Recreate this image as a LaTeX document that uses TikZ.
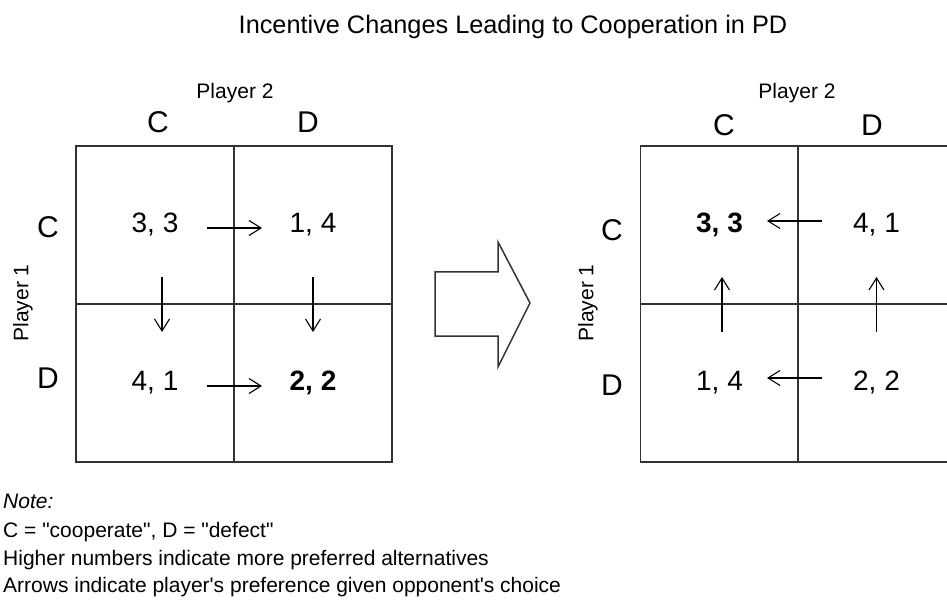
\documentclass[tikz,border=0pt]{standalone}
\usepackage{fontspec}
\setmainfont{Liberation Sans}[Ligatures=TeXOff]
\usetikzlibrary{arrows.meta}

\begin{document}
\begin{tikzpicture}[x=1pt,y=-1pt,
    cell/.style={draw=black!80,line width=1.4pt,minimum size=158pt,inner sep=0pt,
      font=\fontsize{28}{32}\selectfont},
    strat/.style={font=\fontsize{30}{34}\selectfont,inner sep=0pt},
    player/.style={font=\fontsize{21}{24}\selectfont,inner sep=0pt},
    note/.style={font=\fontsize{21}{24}\selectfont,inner sep=0pt,anchor=base west},
    pref/.style={-{Straight Barb[length=12pt,width=15pt]},line width=1.1pt,
      shorten <=52pt,shorten >=51pt}]
  \useasboundingbox (0,0) rectangle (947,601);
  \clip (0,0) rectangle (947,601);

  \node[font=\fontsize{25.3}{30}\selectfont] (title) at (513,27)
    {Incentive Changes Leading to Cooperation in PD};

  % before
  \node[cell] (l_cc) at (155,225) {3, 3};
  \node[cell] (l_cd) at (313,225) {1, 4};
  \node[cell] (l_dc) at (155,383) {4, 1};
  \node[cell] (l_dd) at (313,383) {\bfseries 2, 2};
  \node[player] (l_p2) at (235,93) {Player 2};
  \node[strat] (l_c2) at (158,122) {C};
  \node[strat] (l_d2) at (308,122) {D};
  \node[strat] (l_c1) at (48,227) {C};
  \node[strat] (l_d1) at (48,378) {D};
  \node[player,rotate=90] (l_p1) at (23,303) {Player 1};
  \draw[pref] ([yshift=-3pt]l_cc.center) -- ([yshift=-3pt]l_cd.center);
  \draw[pref] ([yshift=-3pt]l_dc.center) -- ([yshift=-3pt]l_dd.center);
  \draw[pref] ([xshift=7pt]l_cc.center) -- ([xshift=7pt]l_dc.center);
  \draw[pref] (l_cd.center) -- (l_dd.center);

  % change
  \draw[draw=black!80,line width=1.5pt,line join=miter]
    (435,272) -- (498,272) -- (498,242) -- (530,303) -- (498,367)
    -- (498,336) -- (435,336) -- cycle;

  % after
  \node[cell] (r_cc) at (719.5,225) {\bfseries 3, 3};
  \node[cell] (r_cd) at (876.5,225) {4, 1};
  \node[cell] (r_dc) at (719.5,383) {1, 4};
  \node[cell] (r_dd) at (876.5,383) {2, 2};
  \node[player] (r_p2) at (797,93) {Player 2};
  \node[strat] (r_c2) at (724,125) {C};
  \node[strat] (r_d2) at (872,125) {D};
  \node[strat] (r_c1) at (612,230) {C};
  \node[strat] (r_d1) at (612,385) {D};
  \node[player,rotate=90] (r_p1) at (588,303) {Player 1};
  \draw[pref,shorten <=54.5pt,shorten >=47.5pt] ([yshift=4pt]r_cd.center) -- ([yshift=4pt]r_cc.center);
  \draw[pref,shorten <=54.5pt,shorten >=47.5pt] ([yshift=5pt]r_dd.center) -- ([yshift=5pt]r_dc.center);
  \draw[pref,shorten <=51pt,shorten >=52pt] ([xshift=2.5pt]r_dc.center) -- ([xshift=2.5pt]r_cc.center);
  \draw[pref,shorten <=51pt,shorten >=52pt] (r_dd.center) -- (r_cd.center);

  \node[note] (note0) at (3,508) {\itshape Note:};
  \node[note] (note1) at (3,537) {C = "cooperate", D = "defect"};
  \node[note] (note2) at (3,565) {Higher numbers indicate more preferred alternatives};
  \node[note] (note3) at (3,592) {Arrows indicate player's preference given opponent's choice};
\end{tikzpicture}
\end{document}
